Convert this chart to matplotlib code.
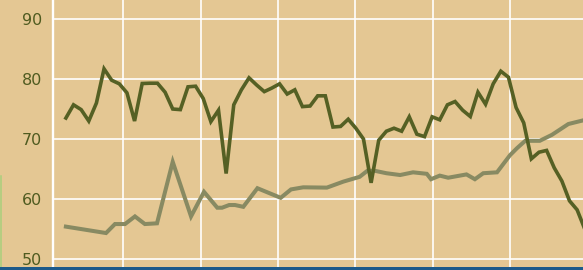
import matplotlib

matplotlib.use("Agg")
import matplotlib.pyplot as plt  # noqa: E402
from matplotlib.lines import Line2D  # noqa: E402
from matplotlib.patches import Rectangle  # noqa: E402

# Palette
BG = "#e4c793"
DARK = "#556024"
LIGHT = "#888a62"
LABEL = "#4f5b20"
BLUE = "#1d5a8a"
EDGE_GREEN = "#a9cf7c"

plt.rcParams.update({"font.family": "DejaVu Sans"})

# Dark series: one value per step
dark_x = list(range(69))
dark_y = [73.5, 75.7, 74.9, 73.0, 76.0, 81.7, 79.8, 79.2, 77.7, 73.0,
          79.25, 79.3, 79.3, 77.8, 75.0, 74.9, 78.7, 78.8, 76.75, 72.9,
          74.8, 64.25, 75.7, 78.2, 80.2, 79.0, 77.9, 78.5, 79.2, 77.5,
          78.2, 75.4, 75.5, 77.2, 77.2, 72.0, 72.1, 73.3, 71.8, 70.0,
          62.7, 69.8, 71.3, 71.8, 71.3, 73.7, 70.8, 70.4, 73.7, 73.2,
          75.7, 76.25, 74.8, 73.75, 77.8, 75.8, 79.2, 81.3, 80.3, 75.25,
          72.7, 66.7, 67.8, 68.1, 65.2, 63.0, 59.7, 58.2, 55.0]

# Light series: irregular sampling
light_x = [0.0, 5.26, 6.43, 7.75, 9.05, 10.35, 11.94, 14.0, 16.4, 18.1,
           19.84, 20.46, 21.4, 22.16, 23.25, 25.1, 28.15, 29.5, 31.1, 34.2,
           36.36, 38.5, 39.5, 40.5, 42.0, 43.8, 45.5, 47.3, 47.85, 49.0,
           50.1, 52.5, 53.6, 54.7, 56.5, 58.2, 59.1, 60.2, 62.1, 63.7,
           65.85, 67.6]
light_y = [55.4, 54.33, 55.83, 55.83, 57.1, 55.83, 55.95, 66.2, 57.1, 61.2,
           58.55, 58.55, 59.0, 59.0, 58.7, 61.8, 60.2, 61.6, 61.95, 61.9,
           62.9, 63.7, 64.7, 64.7, 64.3, 64.0, 64.45, 64.2, 63.3, 63.9,
           63.55, 64.1, 63.3, 64.3, 64.45, 67.3, 68.45, 69.7, 69.7, 70.7,
           72.5, 73.05]

y_ticks = [50, 60, 70, 80, 90]
x_grid = [7.52 + 10.135 * k for k in range(6)]

W, H = 583, 270
fig = plt.figure(figsize=(W / 100, H / 100), dpi=100, facecolor=BG)
ax = fig.add_axes([53 / W, 0, 1 - 53 / W, 1])
ax.set_facecolor(BG)

ax.plot(light_x, light_y, color=LIGHT, lw=2.9, solid_joinstyle="miter",
        zorder=3)
ax.plot(dark_x, dark_y, color=DARK, lw=2.6, solid_joinstyle="miter",
        zorder=4)

ax.set_xlim(-1.69, 67.77)
ax.set_ylim(48.17, 93.17)
ax.set_xticks(x_grid)
ax.set_xticklabels([])
ax.set_yticks(y_ticks)
ax.set_yticklabels([str(v) for v in y_ticks], fontsize=11.5, color=LABEL)
ax.tick_params(axis="both", length=0)
ax.tick_params(axis="y", pad=8)
ax.grid(True, color="white", lw=1.2, zorder=1)
ax.set_axisbelow(True)

for s in ("top", "right", "bottom"):
    ax.spines[s].set_visible(False)
ax.spines["left"].set_color("white")
ax.spines["left"].set_linewidth(1.7)

# Bottom blue strip and left green edge fragment
fig.patches.append(Rectangle((0, 0), 1, 2.6 / H, transform=fig.transFigure,
                             facecolor=BLUE, edgecolor="none", zorder=10))
fig.lines.append(Line2D([0.6 / W, 0.6 / W], [0, (H - 176) / H],
                        transform=fig.transFigure, color=EDGE_GREEN, lw=1.1))

fig.savefig("out.png", dpi=100, facecolor=BG)
